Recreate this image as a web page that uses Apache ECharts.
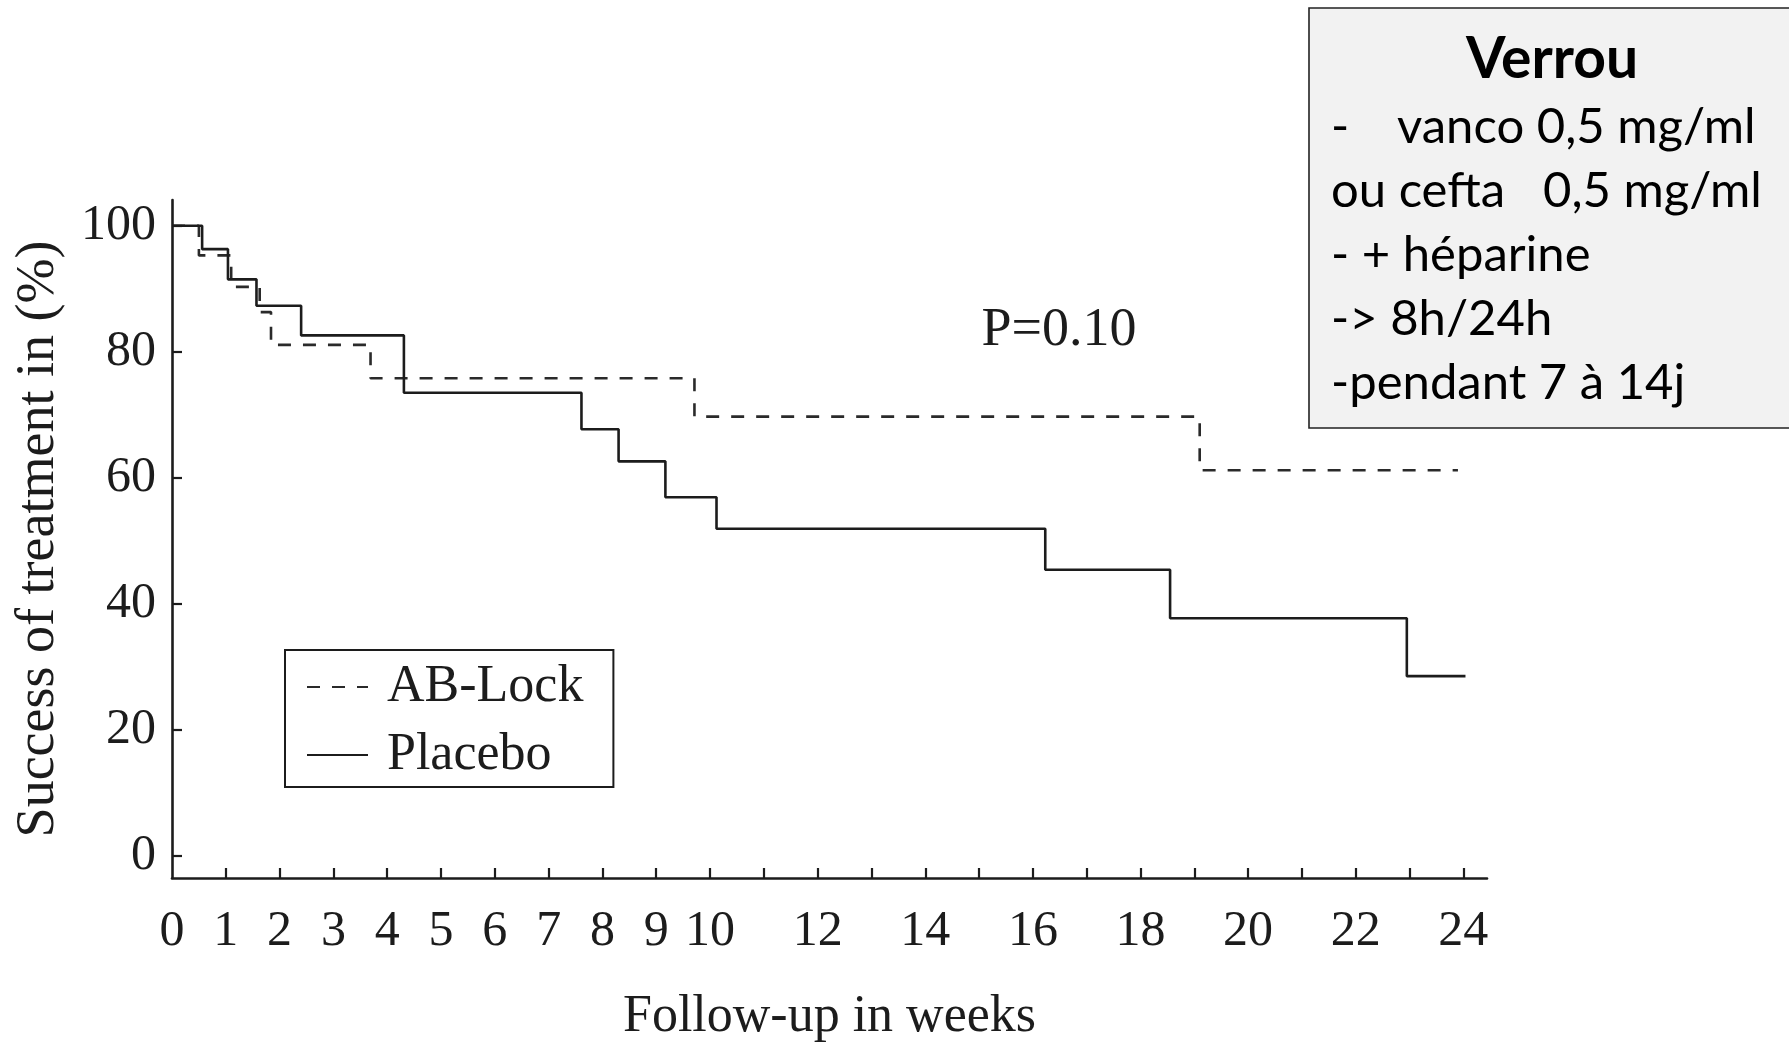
<!DOCTYPE html>
<html>
<head>
<meta charset="utf-8">
<script src="https://cdn.jsdelivr.net/npm/echarts@6/dist/echarts.min.js"></script>
<style>
  html, body { margin: 0; padding: 0; background: #ffffff; }
  #chart { width: 1789px; height: 1048px; }
</style>
</head>
<body>
<div id="chart"></div>
<script>
// Kaplan-Meier style step curves: week at which each step starts, and the % success from then on
const abLockWeeks  = [0, 0.50, 1.10, 1.63, 1.84, 3.69, 9.71, 19.10, 23.90];
const abLockValues = [100, 95.3, 90.3, 86.3, 81.1, 75.8, 69.7, 61.2, 61.2];

const placeboWeeks  = [0, 0.56, 1.04, 1.57, 2.40, 4.31, 7.61, 8.30, 9.17, 10.12, 16.23, 18.55, 22.95, 24.04];
const placeboValues = [100, 96.3, 91.5, 87.3, 82.6, 73.5, 67.7, 62.6, 56.9, 51.9, 45.4, 37.7, 28.5, 28.5];

// Axis ticks and labels
const xTickWeeks  = [1, 2, 3, 4, 5, 6, 7, 8, 9, 10, 11, 12, 13, 14, 15, 16, 17, 18, 19, 20, 21, 22, 23, 24];
const xLabelWeeks = [0, 1, 2, 3, 4, 5, 6, 7, 8, 9, 10, 12, 14, 16, 18, 20, 22, 24];
const yTicks      = [0, 20, 40, 60, 80, 100];

const pValueText = 'P=0.10';
const boxTitle = 'Verrou';

const zip = (xs, ys) => xs.map((x, i) => [x, ys[i]]);

const serif = '"Liberation Serif", "DejaVu Serif", serif';
const ink = '#1c1c1c';
const boxFont = '49px Lato';

const chart = echarts.init(document.getElementById('chart'), null, { renderer: 'canvas' });

chart.setOption({
  backgroundColor: '#ffffff',
  animation: false,
  grid: { left: 172, right: 302, top: 200, bottom: 166, containLabel: false },
  xAxis: {
    type: 'value',
    min: 0,
    max: 24.44,
    name: 'Follow-up in weeks',
    nameLocation: 'middle',
    nameGap: 113,
    nameTextStyle: { fontFamily: serif, fontSize: 52, color: ink },
    axisLine: { show: true, onZero: false, lineStyle: { color: ink, width: 2.6 } },
    axisTick: { show: true, inside: true, length: 10, customValues: xTickWeeks, lineStyle: { color: ink, width: 2.2 } },
    axisLabel: { show: true, customValues: xLabelWeeks, fontFamily: serif, fontSize: 50, color: ink, margin: 29 },
    splitLine: { show: false }
  },
  yAxis: {
    type: 'value',
    min: -3.55,
    max: 104.1,
    name: 'Success of treatment in (%)',
    nameLocation: 'middle',
    nameRotate: 90,
    nameGap: 106,
    nameTextStyle: { fontFamily: serif, fontSize: 54, color: ink },
    axisLine: { show: true, onZero: false, lineStyle: { color: ink, width: 2.6 } },
    axisTick: { show: true, inside: true, length: 10, customValues: yTicks, lineStyle: { color: ink, width: 2.2 } },
    axisLabel: { show: true, customValues: yTicks, fontFamily: serif, fontSize: 50, color: ink, margin: 16 },
    splitLine: { show: false }
  },
  legend: {
    orient: 'vertical',
    left: 285,
    top: 650,
    padding: [11, 30, 6, 21],
    borderColor: ink,
    borderWidth: 2,
    itemWidth: 61,
    itemHeight: 14,
    itemGap: 16,
    itemStyle: { opacity: 0 },
    textStyle: { fontFamily: serif, fontSize: 52, color: ink, padding: [0, 0, 0, 14] },
    data: ['AB-Lock', 'Placebo']
  },
  series: [
    {
      name: 'AB-Lock',
      type: 'line',
      step: 'end',
      symbol: 'none',
      data: zip(abLockWeeks, abLockValues),
      lineStyle: { color: '#2a2a2a', width: 2.6, type: [13, 12] },
      itemStyle: { color: '#2a2a2a' },
      z: 2
    },
    {
      name: 'Placebo',
      type: 'line',
      step: 'end',
      symbol: 'none',
      data: zip(placeboWeeks, placeboValues),
      lineStyle: { color: ink, width: 2.6, type: 'solid' },
      itemStyle: { color: ink },
      z: 3
    }
  ],
  graphic: [
    {
      type: 'text',
      style: { text: pValueText, x: 1059, y: 331, font: '54px ' + serif, fill: ink, align: 'center', verticalAlign: 'middle' }
    },
    {
      type: 'rect',
      shape: { x: 1309, y: 8, width: 500, height: 420 },
      style: { fill: '#f2f2f2', stroke: '#222222', lineWidth: 1.6 }
    },
    {
      type: 'text',
      style: { text: boxTitle, x: 1552, y: 60, font: 'bold 57px Lato', fill: '#000', align: 'center', verticalAlign: 'middle' }
    },
    { type: 'text', style: { text: '-', x: 1331, y: 127.5, font: boxFont, fill: '#000', verticalAlign: 'middle' } },
    { type: 'text', style: { text: 'vanco 0,5 mg/ml', x: 1397, y: 127.5, font: boxFont, fill: '#000', verticalAlign: 'middle' } },
    { type: 'text', style: { text: 'ou cefta', x: 1331, y: 191.5, font: boxFont, fill: '#000', verticalAlign: 'middle' } },
    { type: 'text', style: { text: '0,5 mg/ml', x: 1543, y: 191.5, font: boxFont, fill: '#000', verticalAlign: 'middle' } },
    { type: 'text', style: { text: '- + héparine', x: 1331, y: 255.5, font: boxFont, fill: '#000', verticalAlign: 'middle' } },
    { type: 'text', style: { text: '-> 8h/24h', x: 1331, y: 319.5, font: boxFont, fill: '#000', verticalAlign: 'middle' } },
    { type: 'text', style: { text: '-pendant 7 à 14j', x: 1331, y: 383.5, font: boxFont, fill: '#000', verticalAlign: 'middle' } }
  ]
});
</script>
</body>
</html>
